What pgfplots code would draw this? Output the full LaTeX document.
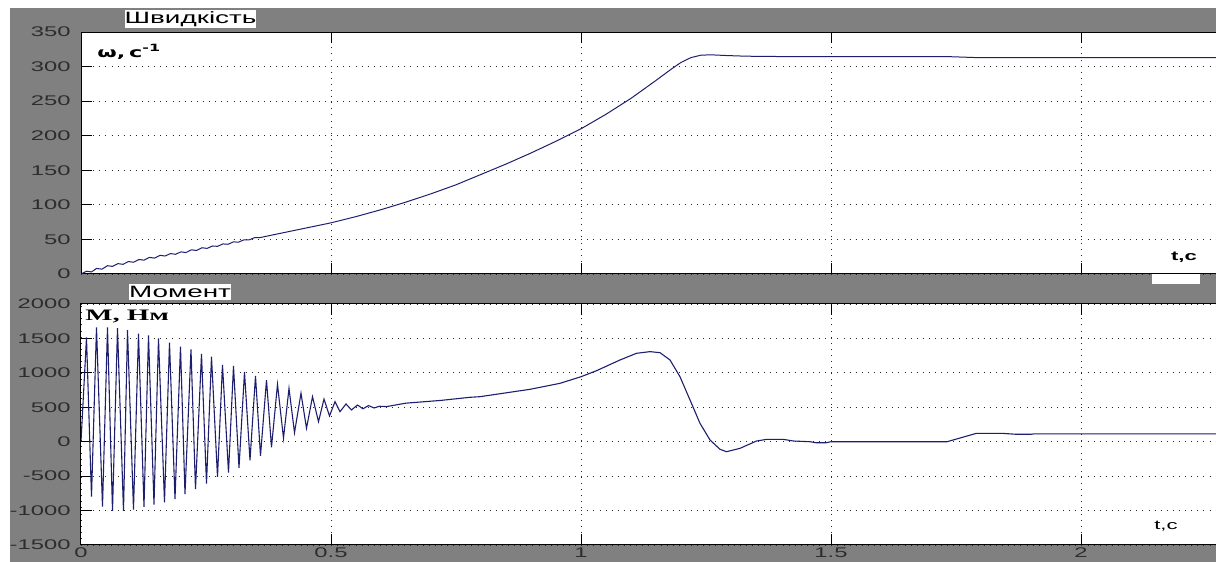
\documentclass[border=0pt]{standalone}
\usepackage{fontspec}
\setmainfont{Liberation Sans}
\newfontfamily\serifff{Liberation Serif}
\newfontfamily\dejavu{DejaVu Sans}
\usepackage{graphicx}
\usepackage{pgfplots}
\pgfplotsset{compat=1.18}
\definecolor{bggray}{RGB}{128,128,128}
\definecolor{curve}{RGB}{30,30,110}
\definecolor{ticktext}{RGB}{45,45,45}
\newcommand{\sx}[1]{\scalebox{1.7}[1]{#1}}
\pgfplotsset{
  mystyle/.style={
    scale only axis, width=575pt, xmin=0, xmax=2.3,
    axis background/.style={fill=white},
    axis line style={black, line width=0.5pt},
    grid=major,
    major grid style={black!85, line width=0.45pt, dash pattern=on 0.45pt off 2.6pt},
    tick style={black, line width=0.5pt},
    major tick length=5.5pt,
    tick align=inside, tick pos=both,
    xtick={0,0.5,1,1.5,2},
    scaled ticks=false,
    /pgf/number format/1000 sep={},
    /pgf/number format/assume math mode=true,
    every tick label/.style={font=\fontsize{7}{8}\selectfont, text=ticktext},
    yticklabel={\sx{\pgfmathprintnumber{\tick}}},
    yticklabel style={anchor=east, inner sep=0pt, xshift=-5pt},
  }
}
\begin{document}
\begin{tikzpicture}
\path[use as bounding box, clip] (0,0) rectangle (608pt,281pt);
\fill[white] (0,0) rectangle (608pt,281pt);
\fill[bggray] (5pt,0) rectangle (608pt,277pt);

\begin{axis}[mystyle, at={(40.5pt,144pt)}, anchor=south west, height=121pt,
  ymin=0, ymax=350, ytick={0,50,...,350}, xticklabels={}]
\addplot[curve, line width=0.5pt] coordinates {
(0,0) (0.011,4) (0.021,3) (0.031,8) (0.042,7) (0.053,12) (0.063,11) (0.074,15)
(0.084,14) (0.095,18) (0.105,17) (0.116,21) (0.126,20) (0.137,24) (0.147,23)
(0.158,27) (0.168,26) (0.179,29.5) (0.189,28.5) (0.2,32) (0.21,31) (0.221,35)
(0.231,34) (0.242,38) (0.252,37) (0.263,40.5) (0.273,40) (0.284,43.5) (0.294,43)
(0.305,46.5) (0.315,46) (0.326,49.5) (0.336,49.3) (0.347,52.5) (0.357,52.5)
(0.38,56) (0.42,62) (0.46,68) (0.5,74) (0.55,83) (0.6,93) (0.65,104) (0.7,116)
(0.75,129) (0.8,144) (0.85,159) (0.9,175) (0.95,192) (1.0,210) (1.05,231)
(1.1,254) (1.15,280) (1.18,296) (1.2,306) (1.22,313) (1.24,316.5) (1.26,317)
(1.29,316) (1.33,315) (1.4,314.5) (1.5,314.5) (1.73,314.5) (1.79,313) (2.3,313)
};
\end{axis}

\begin{axis}[mystyle, at={(40.5pt,8.5pt)}, anchor=south west, height=120.5pt,
  ymin=-1500, ymax=2000, ytick={-1500,-1000,...,2000},
  xticklabel={\sx{\pgfmathprintnumber{\tick}}},
  xticklabel style={anchor=north, inner sep=0pt, yshift=-1.2pt}]
\addplot[curve, line width=0.55pt] coordinates {
(0,0) (0.011,1515) (0.021,-798) (0.031,1662) (0.043,-944) (0.053,1662)
(0.063,-1006) (0.073,1650) (0.085,-1006) (0.093,1620) (0.105,-985) (0.115,1570)
(0.126,-945) (0.135,1545) (0.146,-915) (0.155,1500) (0.167,-880) (0.177,1440)
(0.188,-835) (0.199,1380) (0.208,-760) (0.22,1340) (0.229,-690) (0.241,1275)
(0.251,-610) (0.261,1235) (0.273,-510) (0.283,1115) (0.295,-450) (0.305,1100)
(0.316,-380) (0.327,1015) (0.338,-270) (0.349,955) (0.359,-205) (0.371,895)
(0.381,-80) (0.393,834) (0.405,50) (0.416,775) (0.427,131) (0.44,703)
(0.451,195) (0.463,654) (0.475,291) (0.486,620) (0.497,374) (0.508,581)
(0.518,436) (0.53,548) (0.541,461) (0.553,533) (0.564,478) (0.575,525)
(0.586,490) (0.597,515) (0.611,510) (0.65,560) (0.72,600) (0.778,645)
(0.798,654) (0.898,761) (0.958,848) (1.0,944) (1.031,1031) (1.078,1187)
(1.111,1284) (1.138,1308) (1.158,1293) (1.178,1187) (1.198,944) (1.218,606)
(1.238,267) (1.258,25) (1.278,-110) (1.291,-145) (1.318,-96) (1.351,10)
(1.371,34) (1.405,34) (1.425,10) (1.458,0) (1.47,-15) (1.49,-15) (1.5,0)
(1.732,0) (1.791,122) (1.841,122) (1.87,108) (1.9,108) (1.905,113) (2.3,113)
};
\end{axis}

\node[fill=white, minimum width=62.5pt, minimum height=9pt, inner sep=0pt] at (95.25pt,271.5pt)
  {\sx{\fontsize{8.2}{9}\selectfont Швидкість}};
\node[fill=white, minimum width=50pt, minimum height=8pt, inner sep=0pt] at (90pt,135pt)
  {\sx{\fontsize{8.2}{9}\selectfont Момент}};
\node[anchor=west, inner sep=0pt] at (48.5pt,255pt)
  {\scalebox{1.6}[1]{\fontsize{7}{8}\selectfont\dejavu\bfseries ω,\,c\raisebox{0.45em}{\fontsize{5}{5}\selectfont -1}}};
\node[anchor=west, inner sep=0pt] at (42.5pt,122.5pt)
  {\scalebox{1.8}[1]{\fontsize{8}{9}\selectfont\serifff\bfseries M, Нм}};
\fill[white] (576pt,139pt) rectangle (600pt,144pt);
\node[inner sep=0pt] at (592pt,152.5pt) {\sx{\fontsize{6.5}{7}\selectfont\bfseries t,c}};
\node[inner sep=0pt] at (583pt,18pt) {\sx{\fontsize{6.5}{7}\selectfont t,c}};
\end{tikzpicture}
\end{document}
